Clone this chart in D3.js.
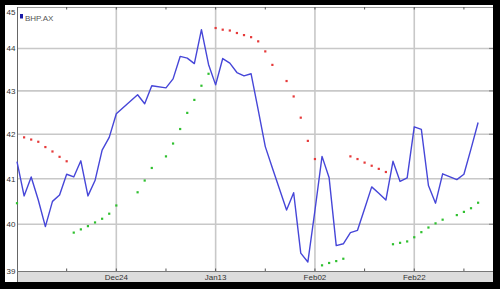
<!DOCTYPE html>
<html><head><meta charset="utf-8">
<script src="https://cdn.jsdelivr.net/npm/d3@7"></script>
<style>html,body{margin:0;padding:0;background:#000;}svg{display:block;}</style>
</head><body><svg id="c" width="500" height="289"></svg>
<script>
// trading-day slots (weekdays); null = no trade
const days = ["Dec04","Dec05","Dec06","Dec07","Dec10","Dec11","Dec12","Dec13","Dec14","Dec17","Dec18","Dec19","Dec20","Dec21",
 "Dec24","Dec25","Dec26","Dec27","Dec28","Dec31","Jan01","Jan02","Jan03","Jan04","Jan07","Jan08","Jan09","Jan10","Jan11",
 "Jan14","Jan15","Jan16","Jan17","Jan18","Jan21","Jan22","Jan23","Jan24","Jan25","Jan28","Jan29","Jan30","Jan31","Feb01",
 "Feb04","Feb05","Feb06","Feb07","Feb08","Feb11","Feb12","Feb13","Feb14","Feb15","Feb18","Feb19","Feb20","Feb21","Feb22",
 "Feb25","Feb26","Feb27","Feb28","Feb29","Mar03","Mar04"];
const close = [41.38,40.62,41.04,40.53,39.95,40.50,40.64,41.10,41.04,41.40,40.62,40.96,41.64,41.93,
 42.47,null,null,42.91,42.70,43.12,null,43.07,43.28,43.81,43.77,43.64,44.45,43.62,43.14,
 43.76,43.65,43.43,43.35,43.40,42.56,41.72,41.24,null,40.31,40.69,39.38,39.19,40.30,41.50,
 41.02,39.54,39.58,39.82,39.87,40.34,40.82,40.68,40.53,41.39,40.94,41.02,42.17,42.11,40.85,
 40.46,41.11,null,40.98,41.10,41.67,42.27];
const sarAbove = [null,41.93,41.88,41.83,41.71,41.61,41.49,41.39,null,null,null,null,null,null,
 null,null,null,null,null,null,null,null,null,null,null,null,null,null,44.49,
 44.45,44.43,44.37,44.32,44.27,44.17,43.93,43.61,null,43.23,42.87,42.38,41.85,41.44,null,
 null,null,null,41.50,41.44,41.36,41.29,41.22,41.15,null,null,null,null,null,null,
 null,null,null,null,null,null,null];
const sarBelow = [40.46,null,null,null,null,null,null,null,39.82,39.89,39.96,40.04,40.12,40.23,
 40.41,null,null,40.70,40.96,41.24,null,41.50,41.79,42.12,42.49,42.79,43.12,43.40,null,
 null,null,null,null,null,null,null,null,null,null,null,null,null,null,39.12,
 39.17,39.21,39.26,null,null,null,null,null,null,39.57,39.60,39.63,39.72,39.83,39.93,
 40.02,40.10,null,40.20,40.27,40.35,40.47];
const yTicks = [39,40,41,42,43,44,45];
const xMajorIdx = [14,28,42,56];
const xMajorLabels = ["Dec24","Jan13","Feb02","Feb22"];
const xMinorIdx = [7,21,35,49,63];
const seriesName = "BHP.AX";

const svg = d3.select("#c");
const L=17,R=493,T=7,B=271;
const x = d3.scaleLinear().domain([0,67.1]).range([L,R]);
const y = d3.scaleLog().domain([39,45]).range([B,T]);
const font = "'Liberation Sans', Arial, sans-serif";

svg.append("rect").attr("width",500).attr("height",289).attr("fill","#000");
svg.append("rect").attr("x",5).attr("y",5).attr("width",488).attr("height",277).attr("fill","#fff");
svg.append("rect").attr("x",L).attr("y",B).attr("width",R-L).attr("height",282-B).attr("fill","#dcdcdc");

// grid
svg.append("g").selectAll("line").data(yTicks.filter(t=>t>39&&t<45)).join("line")
  .attr("x1",L).attr("x2",R).attr("y1",d=>y(d)).attr("y2",d=>y(d))
  .attr("stroke","#c8c8c8").attr("stroke-width",1.6);
svg.append("g").selectAll("line").data(xMajorIdx).join("line")
  .attr("x1",d=>x(d)).attr("x2",d=>x(d)).attr("y1",T).attr("y2",B)
  .attr("stroke","#c8c8c8").attr("stroke-width",1.6);

// frame
svg.append("line").attr("x1",L).attr("x2",R).attr("y1",T+0.5).attr("y2",T+0.5).attr("stroke","#9a9a9a");
svg.append("line").attr("x1",L+0.5).attr("x2",L+0.5).attr("y1",T).attr("y2",282).attr("stroke","#666");
svg.append("line").attr("x1",L).attr("x2",R).attr("y1",B+0.5).attr("y2",B+0.5).attr("stroke","#777");
// tick marks
const allX = xMajorIdx.concat(xMinorIdx);
svg.append("g").selectAll("line").data(allX).join("line")
  .attr("x1",d=>x(d)).attr("x2",d=>x(d)).attr("y1",T).attr("y2",T+2.5).attr("stroke","#555");
svg.append("g").selectAll("line").data(allX).join("line")
  .attr("x1",d=>x(d)).attr("x2",d=>x(d)).attr("y1",B-2.5).attr("y2",B).attr("stroke","#555");
svg.append("g").selectAll("line").data(yTicks.filter(t=>t>39&&t<45)).join("line")
  .attr("x1",R-4).attr("x2",R).attr("y1",d=>y(d)).attr("y2",d=>y(d)).attr("stroke","#888").attr("stroke-width",1.2);

// y labels
svg.append("g").selectAll("text").data(yTicks).join("text")
  .attr("x",15.5).attr("y",d=>d===45?y(d)+8:y(d)+3)
  .attr("text-anchor","end").attr("font-family",font).attr("font-size",8).attr("fill","#333")
  .text(d=>d);
// x labels
svg.append("g").selectAll("text").data(xMajorIdx).join("text")
  .attr("x",(d)=>x(d)).attr("y",279.5).attr("text-anchor","middle")
  .attr("font-family",font).attr("font-size",8).attr("fill","#333")
  .text((d,i)=>xMajorLabels[i]);

// price line
const pts = close.map((v,i)=>({i,v})).filter(d=>d.v!=null);
svg.append("path").datum(pts)
  .attr("d",d3.line().x(d=>x(d.i)).y(d=>y(d.v)))
  .attr("fill","none").attr("stroke","#4646d8").attr("stroke-width",1.4).attr("stroke-linejoin","round");

// SAR dots
function dots(arr,color){
  svg.append("g").selectAll("rect").data(arr.map((v,i)=>({i,v})).filter(d=>d.v!=null)).join("rect")
    .attr("x",d=>x(d.i)-1.1).attr("y",d=>y(d.v)-1.1).attr("width",2.2).attr("height",2.2).attr("fill",color);
}
dots(sarAbove,"#e63a3a");
dots(sarBelow,"#2fc02f");

// legend
svg.append("rect").attr("x",20).attr("y",14).attr("width",3).attr("height",4.5).attr("fill","#1a1aa8");
svg.append("text").attr("x",25).attr("y",20.5).attr("font-family",font).attr("font-size",8)
  .attr("fill","#555").text(seriesName);
</script></body></html>
